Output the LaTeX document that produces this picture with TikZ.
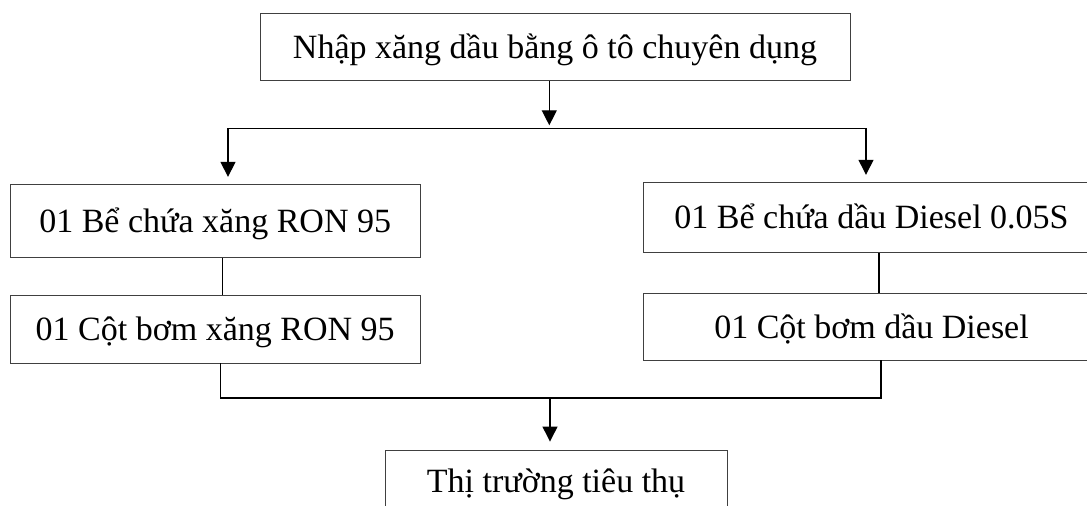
\documentclass[tikz,border=0pt]{standalone}
\usepackage{fontspec}
\setmainfont{Liberation Serif}
\usetikzlibrary{arrows.meta}
\tikzset{
  box/.style={draw=black!75, line width=0.9bp, rectangle, inner sep=0pt,
    font=\fontsize{34bp}{40bp}\selectfont, text height=22.8bp, text depth=0pt},
  link/.style={draw=black, line width=1.3bp},
}
\begin{document}
\begin{tikzpicture}[>={Triangle[length=15bp,width=15bp]},x=1bp,y=-1bp]
\useasboundingbox (0,0) rectangle (1087,506);
%%
  % Node: Nhap xang dau
  \node[box, minimum width=590bp, minimum height=66.5bp] (nhap) at (555,47.2) {Nhập xăng dầu bằng ô tô chuyên dụng};
  % Node: Be chua xang
  \node[box, minimum width=409.5bp, minimum height=73bp] (bexang) at (215.2,220.8) {01 Bể chứa xăng RON 95};
  % Node: Be chua dau
  \node[box, minimum width=457bp, minimum height=70.5bp] (bedau) at (871.5,217.5) {01 Bể chứa dầu Diesel 0.05S};
  % Node: Cot bom xang
  \node[box, minimum width=409.5bp, minimum height=68bp] (cotxang) at (215.2,329) {01 Cột bơm xăng RON 95};
  % Node: Cot bom dau
  \node[box, minimum width=457bp, minimum height=66.3bp] (cotdau) at (871.5,326.8) {01 Cột bơm dầu Diesel};
  % Node: Thi truong
  \node[box, minimum width=342bp, minimum height=62bp] (thitruong) at (556,481) {Thị trường tiêu thụ};
%
  \coordinate (splitC) at (549.3,128.3);
  \coordinate (splitL) at (228,128.3);
  \coordinate (splitR) at (866,128.3);
  \coordinate (mergeL) at (220.7,398);
  \coordinate (mergeR) at (881,398);
  \coordinate (mergeC) at (550,398);
  % Edge: Nhap -> split
  \draw [link,->,shorten >=3bp] (splitC |- nhap.south) -- (splitC);
  \draw [link] (splitL) -- (splitR);
  % Edge: split -> Be chua xang
  \draw [link,->,shorten >=7bp] (splitL) -- (splitL |- bexang.north);
  % Edge: split -> Be chua dau
  \draw [link,->,shorten >=7bp] (splitR) -- (splitR |- bedau.north);
  % Edge: Be chua -> Cot bom
  \draw [link] ([xshift=7.5bp]bexang.south) -- ([xshift=7.5bp]cotxang.north);
  \draw [link] ([xshift=7.5bp]bedau.south) -- ([xshift=7.5bp]cotdau.north);
  % Edge: Cot bom -> Thi truong
  \draw [link] (mergeL |- cotxang.south) -- (mergeL) -- (mergeR) -- (mergeR |- cotdau.south);
  \draw [link,->,shorten >=8bp] (mergeC) -- (mergeC |- thitruong.north);
%
\end{tikzpicture}
\end{document}
